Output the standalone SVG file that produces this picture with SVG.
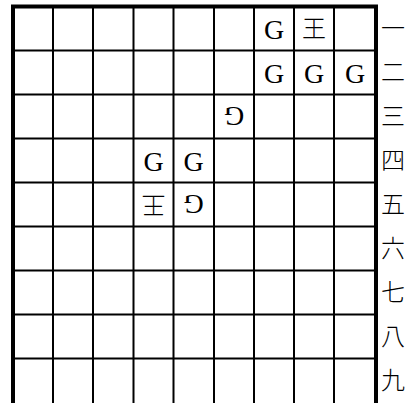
<svg xmlns="http://www.w3.org/2000/svg" width="408" height="403" viewBox="0 0 408 403">
<style>
.bg{fill:#fff}
.grid line{stroke:#000;stroke-width:2}
.border{stroke:#000;stroke-width:4;fill:none}
.p{font-family:"Liberation Serif","Times New Roman",serif;font-size:28px;fill:#000;text-anchor:middle;dominant-baseline:central}
.k{font-family:"Liberation Serif","Noto Sans CJK JP",serif;font-size:24px;font-weight:300;fill:#000;text-anchor:middle;dominant-baseline:central}
.lbl{font-family:"Liberation Serif","Noto Sans CJK JP",serif;font-size:24px;font-weight:300;fill:#000;text-anchor:middle;dominant-baseline:central}
</style>
<rect class="bg" x="0" y="0" width="408" height="403"/>
<g id="board" class="grid">
<line x1="53" y1="6" x2="53" y2="403"/>
<line x1="93" y1="6" x2="93" y2="403"/>
<line x1="133.5" y1="6" x2="133.5" y2="403"/>
<line x1="173.5" y1="6" x2="173.5" y2="403"/>
<line x1="214" y1="6" x2="214" y2="403"/>
<line x1="254" y1="6" x2="254" y2="403"/>
<line x1="294" y1="6" x2="294" y2="403"/>
<line x1="334" y1="6" x2="334" y2="403"/>
<line x1="13" y1="50.5" x2="376" y2="50.5"/>
<line x1="13" y1="94.5" x2="376" y2="94.5"/>
<line x1="13" y1="138.5" x2="376" y2="138.5"/>
<line x1="13" y1="182.5" x2="376" y2="182.5"/>
<line x1="13" y1="226.5" x2="376" y2="226.5"/>
<line x1="13" y1="270.5" x2="376" y2="270.5"/>
<line x1="13" y1="314.5" x2="376" y2="314.5"/>
<line x1="13" y1="358.5" x2="376" y2="358.5"/>
<path class="border" d="M13,403 V6.5 H376 V403"/>
</g>
<g id="pieces">
<g id="p-r1c7"><text class="p" x="274" y="29">G</text></g>
<g id="p-r1c8"><text class="k" x="314" y="29">王</text></g>
<g id="p-r2c7"><text class="p" x="274" y="73">G</text></g>
<g id="p-r2c8"><text class="p" x="314" y="73">G</text></g>
<g id="p-r2c9"><text class="p" x="355" y="73">G</text></g>
<g id="p-r3c6"><text class="p" x="234" y="116.5" transform="rotate(180 234 116.5)">G</text></g>
<g id="p-r4c4"><text class="p" x="153.5" y="161">G</text></g>
<g id="p-r4c5"><text class="p" x="193.5" y="161">G</text></g>
<g id="p-r5c4"><text class="k" x="153.5" y="204.5" transform="rotate(180 153.5 204.5)">王</text></g>
<g id="p-r5c5"><text class="p" x="193.5" y="204.5" transform="rotate(180 193.5 204.5)">G</text></g>
</g>
<g id="rank-labels">
<text class="lbl" x="393" y="28.5">一</text>
<text class="lbl" x="393" y="72.5">二</text>
<text class="lbl" x="393" y="116.5">三</text>
<text class="lbl" x="393" y="160.5">四</text>
<text class="lbl" x="393" y="204.5">五</text>
<text class="lbl" x="393" y="248.5">六</text>
<text class="lbl" x="393" y="292.5">七</text>
<text class="lbl" x="393" y="336.5">八</text>
<text class="lbl" x="393" y="380.5">九</text>
</g>
</svg>
